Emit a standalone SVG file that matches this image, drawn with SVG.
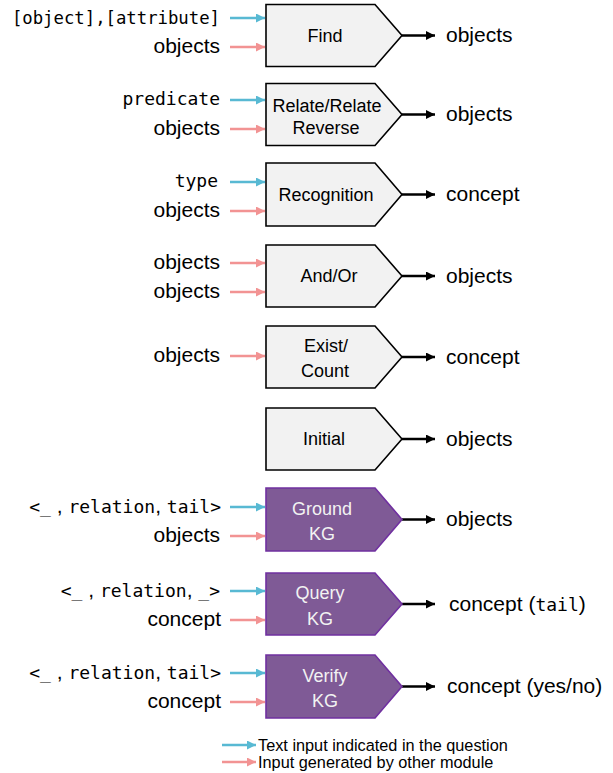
<svg xmlns="http://www.w3.org/2000/svg" width="613" height="773" viewBox="0 0 613 773">
<style>
.bg{fill:#ffffff}
.gray{fill:#f2f2f2;stroke:#000000;stroke-width:1.6}
.purp{fill:#7f5a96;stroke:#7030a0;stroke-width:1.6}
.lbl{font-family:"Liberation Sans",Arial,sans-serif;font-size:18px;fill:#000000;text-anchor:middle}
.wlbl{font-family:"Liberation Sans",Arial,sans-serif;font-size:18px;fill:#f2f2f2;text-anchor:middle}
.t{font-family:"Liberation Sans",Arial,sans-serif;font-size:21px;fill:#000000}
.in{text-anchor:end}
.m{font-family:"DejaVu Sans Mono","Liberation Mono",monospace;font-size:18px}
.leg{font-family:"Liberation Sans",Arial,sans-serif;font-size:16.3px;fill:#000000}
.cy{stroke:#58b9d3;stroke-width:2.5;fill:none;marker-end:url(#mc)}
.pk{stroke:#f29393;stroke-width:2.5;fill:none;marker-end:url(#mp)}
.bk{stroke:#000000;stroke-width:2.5;fill:none;marker-end:url(#mb)}
</style>
<defs>
<marker id="mc" viewBox="0 0 10 10" refX="10" refY="5" markerWidth="9" markerHeight="9" markerUnits="userSpaceOnUse" orient="auto"><path d="M0,0 L10,5 L0,10 z" fill="#58b9d3"/></marker>
<marker id="mp" viewBox="0 0 10 10" refX="10" refY="5" markerWidth="9" markerHeight="9" markerUnits="userSpaceOnUse" orient="auto"><path d="M0,0 L10,5 L0,10 z" fill="#f29393"/></marker>
<marker id="mb" viewBox="0 0 10 10" refX="10" refY="5" markerWidth="9" markerHeight="9" markerUnits="userSpaceOnUse" orient="auto"><path d="M0,0 L10,5 L0,10 z" fill="#000000"/></marker>
</defs>
<rect class="bg" x="0" y="0" width="613" height="773"/>

<g id="connectors">
<line class="cy" x1="230" y1="18" x2="265" y2="18"/>
<line class="pk" x1="230" y1="47" x2="265" y2="47"/>
<line class="cy" x1="230" y1="100" x2="265" y2="100"/>
<line class="pk" x1="230" y1="129" x2="265" y2="129"/>
<line class="cy" x1="230" y1="182" x2="265" y2="182"/>
<line class="pk" x1="230" y1="211" x2="265" y2="211"/>
<line class="pk" x1="230" y1="263" x2="265" y2="263"/>
<line class="pk" x1="230" y1="292" x2="265" y2="292"/>
<line class="pk" x1="230" y1="356" x2="265" y2="356"/>
<line class="cy" x1="230" y1="507" x2="265" y2="507"/>
<line class="pk" x1="230" y1="536" x2="265" y2="536"/>
<line class="cy" x1="230" y1="591" x2="265" y2="591"/>
<line class="pk" x1="230" y1="620" x2="265" y2="620"/>
<line class="cy" x1="230" y1="673" x2="265" y2="673"/>
<line class="pk" x1="230" y1="702" x2="265" y2="702"/>
<line class="bk" x1="402" y1="35.5" x2="435" y2="35.5"/>
<line class="bk" x1="402" y1="114.5" x2="435" y2="114.5"/>
<line class="bk" x1="402" y1="194.5" x2="435" y2="194.5"/>
<line class="bk" x1="402" y1="276" x2="435" y2="276"/>
<line class="bk" x1="402" y1="357" x2="435" y2="357"/>
<line class="bk" x1="402" y1="439" x2="435" y2="439"/>
<line class="bk" x1="402" y1="519.5" x2="435" y2="519.5"/>
<line class="bk" x1="402" y1="604" x2="435" y2="604"/>
<line class="bk" x1="402" y1="686.5" x2="435" y2="686.5"/>
<line class="cy" x1="222" y1="745" x2="256" y2="745"/>
<line class="pk" x1="222" y1="762" x2="256" y2="762"/>
</g>

<g id="find">
<polygon class="gray" points="266,4.5 375,4.5 402,35.5 375,66.5 266,66.5"/>
<text class="lbl" x="325" y="41.5">Find</text>
<text class="t in" x="220" y="24"><tspan class="m" style="font-size:17.3px">[object],[attribute]</tspan></text>
<text class="t in" x="220" y="53">objects</text>
<text class="t" x="446" y="42">objects</text>
</g>

<g id="relate">
<polygon class="gray" points="266,83.5 375,83.5 402,114.5 375,145.5 266,145.5"/>
<text class="lbl" x="327" y="111.5">Relate/Relate</text>
<text class="lbl" x="326" y="134">Reverse</text>
<text class="t in" x="220" y="105"><tspan class="m">predicate</tspan></text>
<text class="t in" x="220" y="135">objects</text>
<text class="t" x="446" y="121">objects</text>
</g>

<g id="recognition">
<polygon class="gray" points="266,163 375,163 402,194.5 375,226 266,226"/>
<text class="lbl" x="326" y="200.5">Recognition</text>
<text class="t in" x="218" y="187"><tspan class="m">type</tspan></text>
<text class="t in" x="220" y="217">objects</text>
<text class="t" x="446" y="201">concept</text>
</g>

<g id="andor">
<polygon class="gray" points="266,245 375,245 402,276 375,307 266,307"/>
<text class="lbl" x="329" y="282">And/Or</text>
<text class="t in" x="220" y="269">objects</text>
<text class="t in" x="220" y="298">objects</text>
<text class="t" x="446" y="282.5">objects</text>
</g>

<g id="exist">
<polygon class="gray" points="266,326 375,326 402,357 375,388 266,388"/>
<text class="lbl" x="326" y="352">Exist/</text>
<text class="lbl" x="325" y="377">Count</text>
<text class="t in" x="220" y="362">objects</text>
<text class="t" x="446" y="363.5">concept</text>
</g>

<g id="initial">
<polygon class="gray" points="266,408 375,408 402,439 375,470 266,470"/>
<text class="lbl" x="324" y="445">Initial</text>
<text class="t" x="446" y="445.5">objects</text>
</g>

<g id="ground">
<polygon class="purp" points="266,488 375,488 402,519.5 375,551 266,551"/>
<text class="wlbl" x="322" y="515">Ground</text>
<text class="wlbl" x="322" y="540">KG</text>
<text class="t in" x="221" y="513"><tspan class="m">&lt;_</tspan> , <tspan class="m">relation</tspan>, <tspan class="m">tail&gt;</tspan></text>
<text class="t in" x="220" y="542">objects</text>
<text class="t" x="446" y="526">objects</text>
</g>

<g id="query">
<polygon class="purp" points="266,573 375,573 402,604 375,635 266,635"/>
<text class="wlbl" x="320" y="599">Query</text>
<text class="wlbl" x="320" y="624.5">KG</text>
<text class="t in" x="220" y="597"><tspan class="m">&lt;_</tspan> , <tspan class="m">relation</tspan>, <tspan class="m">_&gt;</tspan></text>
<text class="t in" x="221" y="626">concept</text>
<text class="t" x="449" y="611">concept (<tspan class="m">tail</tspan>)</text>
</g>

<g id="verify">
<polygon class="purp" points="266,655 375,655 402,686.5 375,718 266,718"/>
<text class="wlbl" x="325" y="682">Verify</text>
<text class="wlbl" x="325" y="707">KG</text>
<text class="t in" x="221" y="679"><tspan class="m">&lt;_</tspan> , <tspan class="m">relation</tspan>, <tspan class="m">tail&gt;</tspan></text>
<text class="t in" x="221" y="708">concept</text>
<text class="t" x="447" y="693">concept (yes/no)</text>
</g>

<g id="legend">
<text class="leg" x="258" y="750.5">Text input indicated in the question</text>
<text class="leg" x="258" y="767.5">Input generated by other module</text>
</g>
</svg>
